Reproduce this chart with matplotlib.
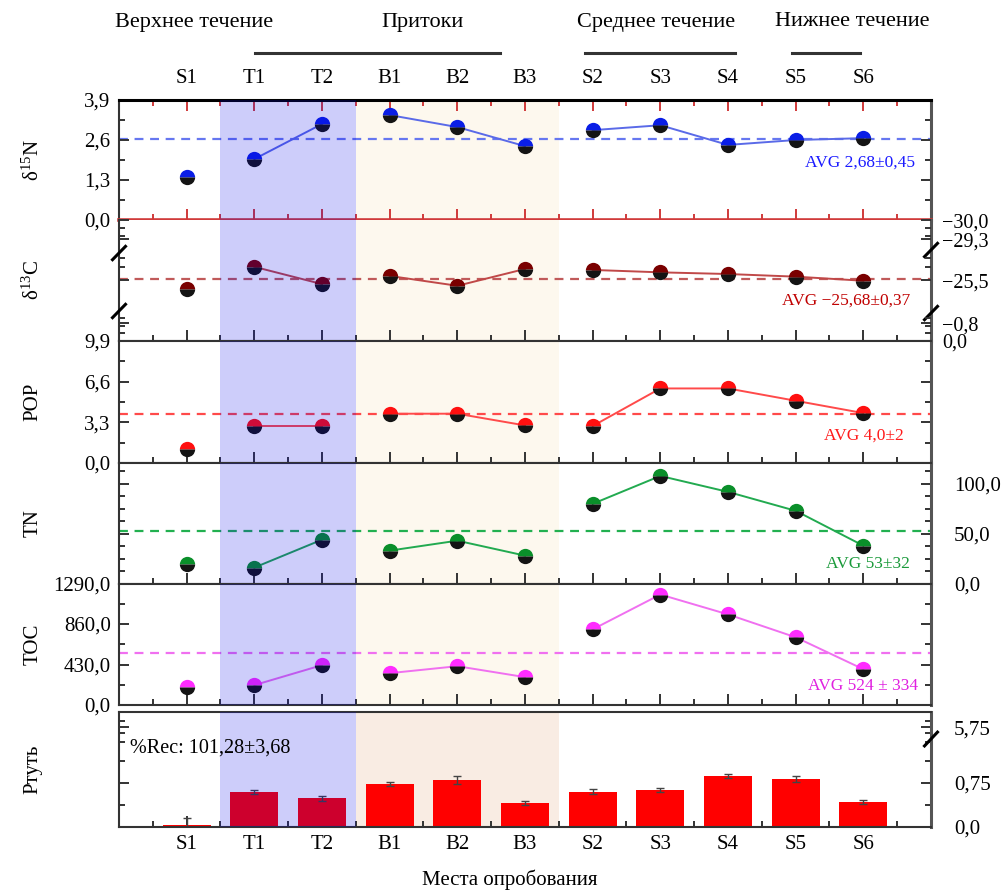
import matplotlib
matplotlib.use('Agg')
import matplotlib.pyplot as plt
import matplotlib.transforms as mtransforms
from matplotlib.lines import Line2D
from matplotlib.ticker import FuncFormatter
import numpy as np

plt.rcParams['font.family'] = ['Liberation Serif', 'DejaVu Serif']
plt.rcParams['mathtext.fontset'] = 'custom'
plt.rcParams['mathtext.rm'] = 'Liberation Serif'
plt.rcParams['mathtext.it'] = 'Liberation Serif:italic'
plt.rcParams['axes.unicode_minus'] = True

# ---------------- data ----------------
sites = ['S1', 'T1', 'T2', 'B1', 'B2', 'B3', 'S2', 'S3', 'S4', 'S5', 'S6']
groups = [0, 1, 1, 2, 2, 2, 3, 3, 3, 3, 3]
d15n = [1.40, 1.98, 3.12, 3.41, 3.02, 2.40, 2.92, 3.08, 2.44, 2.60, 2.66]
d13c = [-25.08, -26.01, -25.29, -25.63, -25.22, -25.92, -25.88, -25.78, -25.71, -25.60, -25.43]
pop = [1.1, 3.0, 3.0, 4.0, 4.0, 3.05, 3.0, 6.05, 6.05, 5.05, 4.05]
tn = [20, 16, 44, 33, 43, 28, 80, 108, 92, 73, 38]
toc = [190, 211, 423, 338, 412, 296, 803, 1173, 962, 719, 380]
hg = [0.04, 0.60, 0.49, 0.73, 0.80, 0.41, 0.60, 0.63, 0.87, 0.82, 0.43]
hg_err = [0.12, 0.03, 0.04, 0.03, 0.07, 0.04, 0.04, 0.04, 0.03, 0.05, 0.03]
avg_levels = [2.62, -25.52, 4.0, 53, 555]
avg_labels = ['AVG 2,68±0,45', 'AVG \u221225,68±0,37', 'AVG 4,0±2', 'AVG 53±32', 'AVG 524 ± 334']
panel_names = ['δ$^{15}$N', 'δ$^{13}$C', 'POP', 'TN', 'TOC', 'Ртуть']
regions = ['Верхнее течение', 'Притоки', 'Среднее течение', 'Нижнее течение']
region_x = [1.11, 4.48, 7.94, 10.83]
region_lines = [(2.01, 5.63), (6.89, 9.10), (9.95, 10.95)]
rec_text = '%Rec: 101,28±3,68'
xlabel = 'Места опробования'

d13c_right_pos = [1.02, 0.86, 0.512, 0.149, 0.0]
d13c_right_lab = ['\u221230,0', '\u221229,3', '\u221225,5', '\u22120,8', '0,0']
hg_right_pos = [0.0, 0.75, 1.70]
hg_right_lab = ['0,0', '0,75', '5,75']

# ---------------- styles ----------------
marker_cols = ['#0a1ee6', '#7a0000', '#ff1010', '#0a8f2a', '#ff2cff']
line_cols = ['#5a6ae8', '#c04848', '#ff4a4a', '#22aa50', '#f070f0']
avg_cols = ['#6677f0', '#c05a5a', '#ff4a4a', '#22b050', '#f070f0']
text_cols = ['#1a1aff', '#c00000', '#ff1a1a', '#1a9a3a', '#e020e0']
avg_text_pos = [(0.980, 0.475), (0.975, 0.33), (0.967, 0.223), (0.974, 0.16), (0.984, 0.157)]

W, H = 1003, 892
L, R = 119, 931
panel_px = [(100, 220), (220, 341), (341, 463), (463, 583.5), (583.5, 705), (712, 827)]


def rect(top, bot):
    return [L / W, 1 - bot / H, (R - L) / W, (bot - top) / H]


fig = plt.figure(figsize=(W / 100, H / 100), dpi=100)
axes = [fig.add_axes(rect(*p)) for p in panel_px]
x = np.arange(1, len(sites) + 1)
comma = FuncFormatter(lambda v, p: f'{v:.1f}'.replace('.', ','))


def base(ax, shade_color):
    ax.set_xlim(0, 12)
    ax.set_xticks(x)
    ax.set_xticks(np.arange(0.5, 12, 1), minor=True)
    ax.axvspan(3.5, 6.5, color=shade_color, lw=0, zorder=0)
    ax.axvspan(1.5, 3.5, color=(0, 0, 230 / 255), alpha=0.196, lw=0, zorder=2.6)
    ax.tick_params(which='both', direction='in', colors='#333333', labelcolor='black',
                   labelsize=15, width=1.4)
    ax.tick_params(axis='x', which='major', length=8)
    ax.tick_params(axis='x', which='minor', length=4)
    ax.tick_params(axis='y', which='major', length=7, left=True, right=True, pad=6)
    ax.tick_params(axis='y', which='minor', length=4, left=True, right=True)
    ax.tick_params(axis='x', which='both', top=False, bottom=True, labelbottom=False)
    for s in ['left', 'bottom', 'top']:
        ax.spines[s].set_color('#333333')
        ax.spines[s].set_linewidth(1.5)
    ax.spines['right'].set_color('#555555')
    ax.spines['right'].set_linewidth(2.2)


def plot_series(ax, vals, i):
    g = np.array(groups)
    v = np.array(vals, dtype=float)
    for gi in np.unique(g):
        m = g == gi
        if m.sum() > 1:
            ax.plot(x[m], v[m], '-', color=line_cols[i], lw=1.4, zorder=2)
    ax.plot(x, v, 'o', ms=11, mfc=marker_cols[i], mfcalt='#141414', fillstyle='top',
            mec='none', zorder=2.2)
    ax.axhline(avg_levels[i], color=avg_cols[i], lw=1.6, ls=(0, (4, 3)), zorder=1.5)
    ax.text(*avg_text_pos[i], avg_labels[i], transform=ax.transAxes, ha='right', va='center',
            color=text_cols[i], fontsize=12.5, zorder=4)


def brk(ax, xf, yf, dx=0.008, dy=0.055):
    ax.plot([xf - dx, xf + dx], [yf - dy, yf + dy], transform=ax.transAxes, color='black',
            lw=2.2, clip_on=False, zorder=5)


series = [d15n, d13c, pop, tn, toc]
for i in range(5):
    base(axes[i], '#fdf8ee')
    plot_series(axes[i], series[i], i)

# panel 1: delta15N
a = axes[0]
a.set_ylim(0, 3.9)
a.set_yticks([0, 1.3, 2.6, 3.9])
a.set_yticks([0.65, 1.95, 3.25], minor=True)
a.yaxis.set_major_formatter(comma)
a.tick_params(axis='x', which='both', top=True, labeltop=True, pad=9)
a.set_xticklabels(sites)
a.spines['top'].set_color('black')
a.spines['top'].set_linewidth(2.2)
a.spines['bottom'].set_color('#d03a3a')
a.spines['bottom'].set_linewidth(2.6)
a.tick_params(axis='x', which='both', bottom=True, color='#d03a3a')

# panel 2: delta13C (broken scale; right labels on a fraction scale)
a = axes[1]
a.set_ylim(-22.92, -27.96)
a.set_yticks([])
a.spines['top'].set_visible(False)
ar = a.twinx()
ar.set_ylim(0, 1.021)
ar.set_yticks(d13c_right_pos)
ar.set_yticklabels(d13c_right_lab)
ar.set_yticks([0.066, 0.124, 0.19, 0.628, 0.70, 0.884, 0.95], minor=True)
ar.tick_params(which='both', direction='in', colors='#333333', labelcolor='black', labelsize=14.5,
               width=1.4, left=True, right=True, labelleft=False, labelright=True, pad=8)
ar.tick_params(which='major', length=7)
ar.tick_params(which='minor', length=4)
for s in ar.spines.values():
    s.set_visible(False)
brk(a, 0.0, 0.727)
brk(a, 0.0, 0.248)
brk(a, 1.0, 0.752)
brk(a, 1.0, 0.231)

# panel 3: POP
a = axes[2]
a.set_ylim(0, 9.9)
a.set_yticks([0, 3.3, 6.6, 9.9])
a.set_yticks([1.65, 4.95, 8.25], minor=True)
a.yaxis.set_major_formatter(comma)

# panel 4: TN
a = axes[3]
a.set_ylim(0, 121)
a.set_yticks([0, 50, 100])
a.set_yticks([12.5, 25, 37.5, 62.5, 75, 87.5, 112.5], minor=True)
a.yaxis.set_major_formatter(comma)
a.tick_params(axis='y', labelleft=False, labelright=True, pad=16.5)

# panel 5: TOC
a = axes[4]
a.set_ylim(0, 1290)
a.set_yticks([0, 430, 860, 1290])
a.set_yticks([215, 645, 1075], minor=True)
a.yaxis.set_major_formatter(comma)

# panel 6: mercury bars
a = axes[5]
a.set_xlim(0, 12)
a.set_xticks(x)
a.set_xticks(np.arange(0.5, 12, 1), minor=True)
a.axvspan(3.5, 6.5, color='#f9ece3', lw=0, zorder=0)
a.set_axisbelow(True)
a.bar(x, hg, width=0.71, color='#ff0000', lw=0, zorder=1.2)
a.errorbar(x, hg, yerr=hg_err, fmt='none', ecolor='#444444', elinewidth=1, capsize=3,
           capthick=1, zorder=1.3)
a.axvspan(1.5, 3.5, color=(0, 0, 230 / 255), alpha=0.196, lw=0, zorder=2.6)
a.set_ylim(0, 1.96)
a.set_yticks(hg_right_pos)
a.set_yticklabels(hg_right_lab)
a.set_yticks([0.375, 1.125, 1.45, 1.60, 1.80], minor=True)
a.set_xticklabels(sites)
a.tick_params(which='both', direction='in', colors='#333333', labelcolor='black', labelsize=15,
              width=1.4)
a.tick_params(axis='x', which='major', length=8, pad=6)
a.tick_params(axis='x', which='minor', length=4)
a.tick_params(axis='y', which='major', length=7, left=True, right=True, labelleft=False,
              labelright=True, pad=16.5)
a.tick_params(axis='y', which='minor', length=4, left=True, right=True)
for s in ['left', 'bottom', 'top']:
    a.spines[s].set_color('#333333')
    a.spines[s].set_linewidth(1.5)
a.spines['right'].set_color('#555555')
a.spines['right'].set_linewidth(2.2)
brk(a, 1.0, 0.765, dy=0.06)
a.text(0.0135, 0.687, rec_text, transform=a.transAxes, ha='left', va='center', fontsize=14.5,
       zorder=4)

# y labels
for name, (t, b) in zip(panel_names, panel_px):
    fig.text(33 / W, 1 - (t + b) / 2 / H, name, rotation=90, ha='center', va='center',
             fontsize=15)

# region headers
trans = mtransforms.blended_transform_factory(axes[0].transData, fig.transFigure)
for name, xx in zip(regions, region_x):
    fig.text(xx, 1 - 22 / H, name, transform=trans, ha='center', va='center', fontsize=16)
for x0, x1 in region_lines:
    fig.add_artist(Line2D([x0, x1], [1 - 53 / H, 1 - 53 / H], transform=trans,
                          color='#333333', lw=2.2))

fig.text(510 / W, 1 - 880 / H, xlabel, ha='center', va='center', fontsize=15)

fig.savefig('out.png', dpi=100)
